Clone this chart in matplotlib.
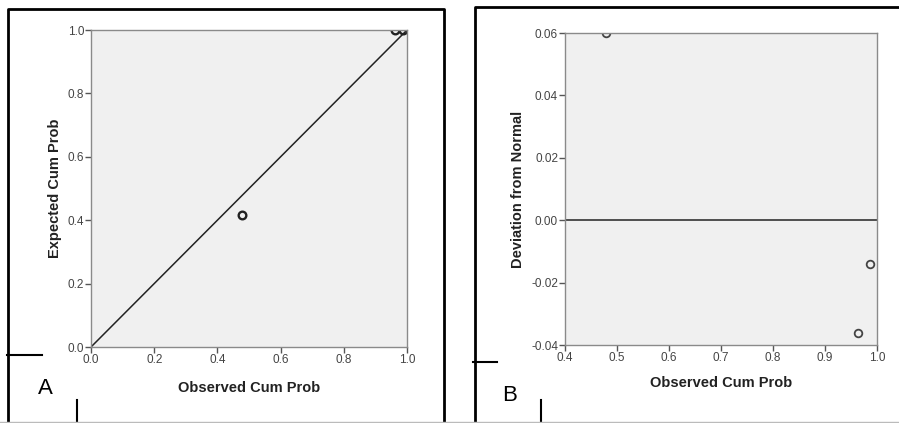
import matplotlib.pyplot as plt
from matplotlib.lines import Line2D

# P-P plot values
observed = [0.478, 0.963, 0.986]
expected = [0.417, 0.999, 1.000]
deviation = [0.060, -0.036, -0.014]

ticks_a = [0.0, 0.2, 0.4, 0.6, 0.8, 1.0]
ticks_bx = [0.4, 0.5, 0.6, 0.7, 0.8, 0.9, 1.0]
ticks_by = [-0.04, -0.02, 0.00, 0.02, 0.04, 0.06]

W, H = 899, 423
plt.rcParams['font.family'] = ['Liberation Sans', 'DejaVu Sans']
fig = plt.figure(figsize=(W / 100, H / 100), dpi=100)
fig.patch.set_facecolor('white')


def px_axes(x0, y0, x1, y1):
    return fig.add_axes([x0 / W, 1 - y1 / H, (x1 - x0) / W, (y1 - y0) / H])


def style(ax):
    ax.set_facecolor('#f0f0f0')
    for s in ax.spines.values():
        s.set_color('#8a8a8a')
        s.set_linewidth(1.0)
    ax.tick_params(direction='out', length=4, width=1, color='#555555',
                   labelsize=8.5, labelcolor='#444444', pad=1)


def fig_line(xs, ys, lw=2.0, color='black'):
    fig.add_artist(Line2D([x / W for x in xs], [1 - y / H for y in ys],
                          lw=lw, color=color, transform=fig.transFigure))


# panel A: normal P-P plot
ax1 = px_axes(91, 30, 407, 347)
style(ax1)
ax1.plot([0, 1], [0, 1], color='#222222', lw=1.1)
ax1.plot(observed, expected, 'o', ms=5.5, mfc='none', mec='#222222', mew=1.7)
ax1.set_xlim(0, 1)
ax1.set_ylim(0, 1)
ax1.set_xticks(ticks_a)
ax1.set_yticks(ticks_a)
ax1.set_xticklabels([f'{t:.1f}' for t in ticks_a])
ax1.set_yticklabels([f'{t:.1f}' for t in ticks_a])
ax1.set_xlabel('Observed Cum Prob', fontsize=10.5, fontweight='bold', labelpad=11, color='#222222')
ax1.set_ylabel('Expected Cum Prob', fontsize=10.5, fontweight='bold', labelpad=4, color='#222222')

# panel B: detrended P-P plot
ax2 = px_axes(565, 33, 877, 345)
style(ax2)
ax2.axhline(0, color='#333333', lw=1.2)
ax2.plot(observed, deviation, 'o', ms=5.5, mfc='none', mec='#444444', mew=1.3)
ax2.set_xlim(0.4, 1.0)
ax2.set_ylim(-0.04, 0.06)
ax2.set_xticks(ticks_bx)
ax2.set_yticks(ticks_by)
ax2.set_xticklabels([f'{t:.1f}' for t in ticks_bx])
ax2.set_yticklabels([f'{t:.2f}' for t in ticks_by])
ax2.set_xlabel('Observed Cum Prob', fontsize=10.5, fontweight='bold', labelpad=9, color='#222222')
ax2.set_ylabel('Deviation from Normal', fontsize=10.5, fontweight='bold', labelpad=4, color='#222222')

# frames and corner brackets
fig_line([8, 8, 444, 444], [423, 9, 9, 423])
fig_line([475, 475, 899], [423, 7, 7])
fig_line([7, 42], [355, 355], lw=1.5)
fig_line([77, 77], [400, 423], lw=1.5)
fig_line([473, 497], [362, 362], lw=1.5)
fig_line([541, 541], [400, 423], lw=1.5)
fig_line([0, 899], [422, 422], lw=1.0, color='#bbbbbb')

fig.text(45 / W, 1 - 388 / H, 'A', fontsize=16, va='center', ha='center')
fig.text(510 / W, 1 - 395 / H, 'B', fontsize=16, va='center', ha='center')

fig.savefig('out.png', dpi=100)
